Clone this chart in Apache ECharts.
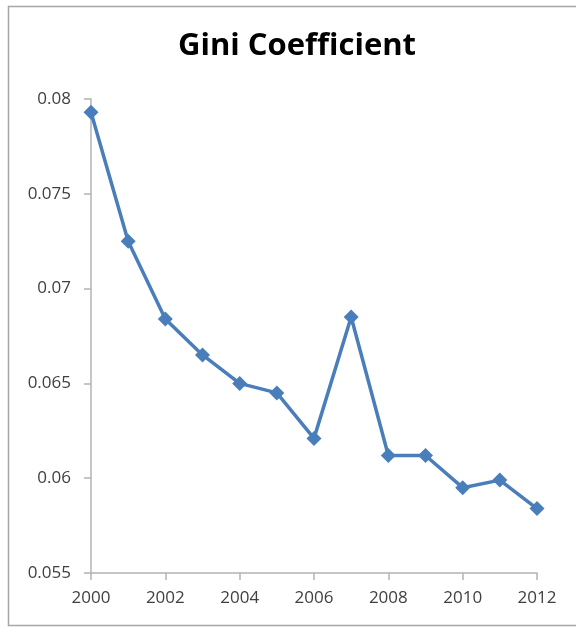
<!DOCTYPE html>
<html>
<head>
<meta charset="utf-8">
<script src="https://cdn.jsdelivr.net/npm/echarts@6/dist/echarts.min.js"></script>
<style>
  html, body { margin: 0; padding: 0; background: #fff; }
  #chart { width: 576px; height: 628px; }
</style>
</head>
<body>
<div id="chart"></div>
<script>
// data
var years = [2000, 2001, 2002, 2003, 2004, 2005, 2006, 2007, 2008, 2009, 2010, 2011, 2012];
var gini = [0.0793, 0.0725, 0.0684, 0.0665, 0.0650, 0.0645, 0.0621, 0.0685, 0.0612, 0.0612, 0.0595, 0.0599, 0.0584];

var chart = echarts.init(document.getElementById('chart'));

var axisGray = '#b3b3b3';
var labelColor = '#404040';

var option = {
  backgroundColor: '#fff',
  animation: false,
  title: {
    text: 'Gini Coefficient',
    left: 292,
    textAlign: 'center',
    top: 26,
    textStyle: {
      fontFamily: 'Open Sans',
      fontSize: 31,
      fontWeight: 'bold',
      color: '#000'
    }
  },
  grid: {
    left: 91,
    right: 39,
    top: 99,
    bottom: 55
  },
  xAxis: {
    type: 'value',
    min: 2000,
    max: 2012,
    interval: 2,
    splitLine: { show: false },
    axisLine: { lineStyle: { color: axisGray, width: 1.5 } },
    axisTick: { show: true, length: 7, lineStyle: { color: axisGray, width: 1.5 } },
    axisLabel: {
      color: labelColor,
      fontFamily: 'Open Sans',
      fontSize: 17,
      margin: 17,
      formatter: function (v) { return String(v); }
    }
  },
  yAxis: {
    type: 'value',
    min: 0.055,
    max: 0.08,
    interval: 0.005,
    splitLine: { show: false },
    axisLine: { show: true, lineStyle: { color: axisGray, width: 1.5 } },
    axisTick: { show: true, length: 7, lineStyle: { color: axisGray, width: 1.5 } },
    axisLabel: {
      color: labelColor,
      fontFamily: 'Open Sans',
      fontSize: 17,
      margin: 20
    }
  },
  graphic: [
    {
      type: 'rect',
      shape: { x: 8.5, y: 6.5, width: 700, height: 619 },
      style: { fill: 'none', stroke: '#a6a6a6', lineWidth: 1.5 },
      silent: true,
      z: -1
    }
  ],
  series: [
    {
      type: 'line',
      data: years.map(function (y, i) { return [y, gini[i]]; }),
      symbol: 'diamond',
      symbolSize: 15,
      lineStyle: { color: '#4a7ebb', width: 3.5 },
      itemStyle: { color: '#4a7ebb' }
    }
  ]
};

chart.setOption(option);
</script>
</body>
</html>
